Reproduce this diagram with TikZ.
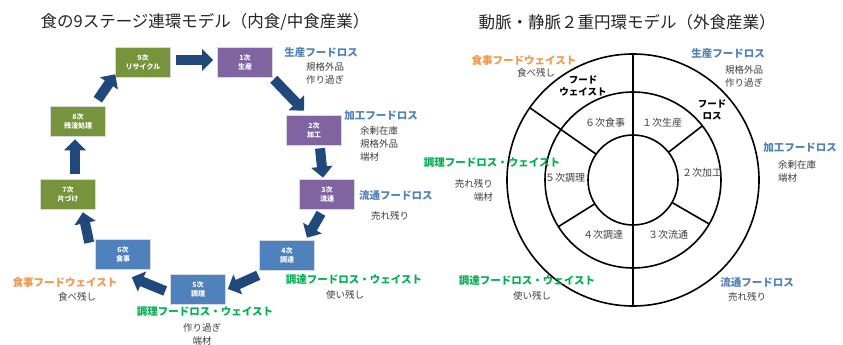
\documentclass[tikz,border=0pt]{standalone}
\usepackage{fontspec}
\setmainfont{Noto Sans CJK JP}
\usetikzlibrary{arrows.meta,calc}
\definecolor{boxgreen}{HTML}{77933C}
\definecolor{boxpurple}{HTML}{8064A2}
\definecolor{boxblue}{HTML}{4F81BD}
\definecolor{arrowblue}{HTML}{1F497D}
\definecolor{lblblue}{HTML}{4F81BD}
\definecolor{lblgreen}{HTML}{00B050}
\definecolor{lblorange}{HTML}{F79646}
\definecolor{txtgray}{HTML}{404040}
\begin{document}
\begin{tikzpicture}[x=1pt,y=-1pt,
  stage/.style={draw=white!85!black, line width=0.6pt, text=white,
    font=\fontsize{7}{9}\selectfont\bfseries, minimum width=55pt,
    minimum height=30pt, inner sep=0pt, align=center},
  barrow/.style={draw=arrowblue, line width=10pt,
    -{Triangle[width=21pt,length=11pt]}},
  losslbl/.style={font=\fontsize{10.5}{12}\selectfont\bfseries, inner sep=0pt},
  notelbl/.style={font=\fontsize{9.5}{13}\selectfont, text=txtgray, inner sep=0pt},
  titlelbl/.style={font=\fontsize{16.5}{18}\selectfont, text=black!85, inner sep=0pt},
  ringline/.style={draw=black, line width=1.6pt},
  ringlbl/.style={font=\fontsize{10}{12}\selectfont, text=txtgray, inner sep=0pt},
  outerlbl/.style={font=\fontsize{9.5}{11.5}\selectfont\bfseries, text=black, inner sep=0pt, align=center}
]
\fill[white] (0,0) rectangle (843,345);
\useasboundingbox (0,0) rectangle (843,345);

% titles
\node[titlelbl] (t1) at (205,22) {食の9ステージ連環モデル（内食/中食産業）};
\node[titlelbl] (t2) at (627,22) {動脈・静脈２重円環モデル（外食産業）};

% ---------- left diagram ----------
\node[stage, fill=boxgreen]  (n9) at (143,62)  {9次\\リサイクル};
\node[stage, fill=boxpurple] (n1) at (245,62)  {1次\\生産};
\node[stage, fill=boxpurple] (n2) at (314,130) {2次\\加工};
\node[stage, fill=boxpurple] (n3) at (327,194) {3次\\流通};
\node[stage, fill=boxblue]   (n4) at (287,255) {4次\\調達};
\node[stage, fill=boxblue]   (n5) at (198,289) {5次\\調理};
\node[stage, fill=boxblue]   (n6) at (123,254) {6次\\食事};
\node[stage, fill=boxgreen]  (n7) at (68,194)  {7次\\片づけ};
\node[stage, fill=boxgreen]  (n8) at (78,121)  {8次\\残渣処理};

\draw[barrow] ($(n9.east)+(5,-2)$) -- ($(n1.west)+(-4,-2)$);
\draw[barrow] ($(n1.south east)+(1,2)$) -- ($(n2.north)+(-10,-4)$);
\draw[barrow] ($(n2.south)+(6,3)$) -- ($(n3.north)+(-4,-1)$);
\draw[barrow] ($(n3.south)+(-6,4)$) -- ($(n4.north)+(20,-2)$);
\draw[barrow] ($(n4.south west)+(-1,5)$) -- ($(n5.east)+(2,0)$);
\draw[barrow] ($(n5.west)+(-5,2)$) -- ($(n6.south east)+(-19,8)$);
\draw[barrow] ($(n6.north west)+(-6,4)$) -- ($(n7.south east)+(-13,3)$);
\draw[barrow] ($(n7.north)+(7,-5)$) -- ($(n8.south)+(-3,3)$);
\draw[barrow] ($(n8.north east)+(-8,-6)$) -- ($(n9.south west)+(0,-3)$);

\node[losslbl, text=lblblue] (l1) at (321,52) {生産フードロス};
\node[notelbl, align=center] (l1a) at (325,73) {規格外品\\作り過ぎ};
\node[losslbl, text=lblblue] (l2) at (381,116) {加工フードロス};
\node[notelbl, align=left, anchor=north west] (l2a) at (360,126) {余剰在庫\\規格外品\\端材};
\node[losslbl, text=lblblue, anchor=west] (l3) at (359,195) {流通フードロス};
\node[notelbl] (l3a) at (390,216) {売れ残り};
\node[losslbl, text=lblgreen] (l4) at (354,280) {調達フードロス・ウェイスト};
\node[notelbl] (l4a) at (345,295) {使い残し};
\node[losslbl, text=lblgreen] (l5) at (205,312) {調理フードロス・ウェイスト};
\node[notelbl, align=center] (l5a) at (202,334) {作り過ぎ\\端材};
\node[losslbl, text=lblorange] (l6) at (65,283) {食事フードウェイスト};
\node[notelbl] (l6a) at (77,297) {食べ残し};

% ---------- right diagram ----------
\coordinate (C) at (633,180);
\draw[ringline] (C) circle[radius=126];
\draw[ringline] (C) circle[radius=88];
\draw[ringline] (C) circle[radius=45];
\draw[ringline] ($(C)+(0,-126)$) -- ($(C)+(0,126)$);
\draw[ringline] ($(C)+(-145:45)$) -- ($(C)+(-145:126)$);
\draw[ringline] ($(C)+(-38:45)$) -- ($(C)+(-38:88)$);
\draw[ringline] ($(C)+(30:45)$) -- ($(C)+(30:88)$);
\draw[ringline] ($(C)+(148:45)$) -- ($(C)+(148:88)$);

\node[ringlbl] (m1) at (662,123) {１次生産};
\node[ringlbl] (m6) at (605,123) {６次食事};
\node[ringlbl] (m2) at (702,173) {２次加工};
\node[ringlbl] (m5) at (565,178) {５次調理};
\node[ringlbl] (m4) at (603,235) {４次調達};
\node[ringlbl] (m3) at (668,235) {３次流通};

\node[outerlbl] (o1) at (583,86) {フード\\ウェイスト};
\node[outerlbl] (o2) at (712,110) {フード\\ロス};

\node[losslbl, text=lblorange] (r6) at (524,61) {食事フードウェイスト};
\node[notelbl] (r6a) at (536,73) {食べ残し};
\node[losslbl, text=lblblue] (r1) at (728,53) {生産フードロス};
\node[notelbl, align=left, anchor=north west] (r1a) at (725,65) {規格外品\\作り過ぎ};
\node[losslbl, text=lblblue] (r2) at (800,148) {加工フードロス};
\node[notelbl, align=left, anchor=north west] (r2a) at (778,160) {余剰在庫\\端材};
\node[losslbl, text=lblgreen] (r5) at (492,163) {調理フードロス・ウェイスト};
\node[notelbl, align=right, anchor=north east] (r5a) at (493,179) {売れ残り\\端材};
\node[losslbl, text=lblgreen] (r4) at (527,281) {調達フードロス・ウェイスト};
\node[notelbl] (r4a) at (532,296) {使い残し};
\node[losslbl, text=lblblue] (r3) at (757,282) {流通フードロス};
\node[notelbl] (r3a) at (747,297) {売れ残り};
\end{tikzpicture}
\end{document}
